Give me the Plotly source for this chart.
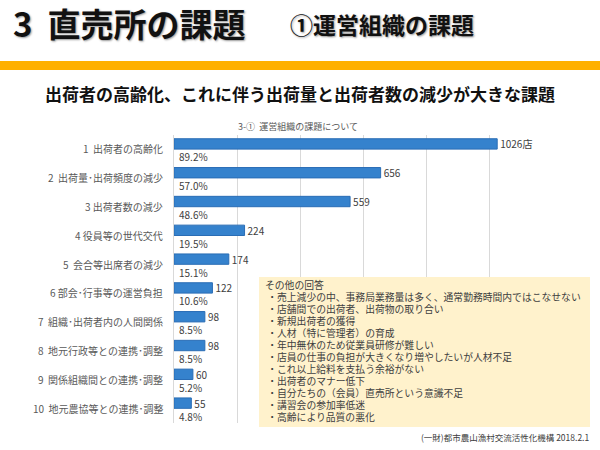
import plotly.graph_objects as go

# 運営組織の課題（回答数）
categories = ['1  出荷者の高齢化', '2  出荷量･出荷頻度の減少', '3 出荷者数の減少', '4 役員等の世代交代',
              '5  会合等出席者の減少', '6 部会･行事等の運営負担', '7  組織･出荷者内の人間関係',
              '8  地元行政等との連携･調整', '9  関係組織間との連携･調整', '10  地元農協等との連携･調整']
counts = [1026, 656, 559, 224, 174, 122, 98, 98, 60, 55]
count_labels = ['1026店', '656', '559', '224', '174', '122', '98', '98', '60', '55']
shares = ['89.2%', '57.0%', '48.6%', '19.5%', '15.1%', '10.6%', '8.5%', '8.5%', '5.2%', '4.8%']
x_ticks = [200, 400, 600, 800, 1000, 1200]

other_answers = [
    'その他の回答',
    ' ・売上減少の中、事務局業務量は多く、通常勤務時間内ではこなせない',
    ' ・店舗間での出荷者、出荷物の取り合い',
    ' ・新規出荷者の獲得',
    ' ・人材（特に管理者）の育成',
    ' ・年中無休のため従業員研修が難しい',
    ' ・店員の仕事の負担が大きくなり増やしたいが人材不足',
    ' ・これ以上給料を支払う余裕がない',
    ' ・出荷者のマナー低下',
    ' ・自分たちの（会員）直売所という意識不足',
    ' ・講習会の参加率低迷',
    ' ・高齢により品質の悪化',
]

FONT = 'Noto Sans CJK JP'
W, H = 600, 450


def py(px):
    return 1 - px / H


fig = go.Figure(go.Bar(
    x=counts, y=categories, orientation='h',
    width=0.36,
    marker=dict(color='#3582CD', line=dict(color='#2A6DB5', width=1)),
    text=count_labels, textposition='outside', constraintext='none',
    outsidetextfont=dict(family=FONT, size=10, color='#404040'),
    cliponaxis=False, hoverinfo='skip',
))

annotations = []
for cat, share in zip(categories, shares):
    annotations.append(dict(x=0.275, xref='paper', y=cat, yref='y', text=cat,
                            xanchor='right', yanchor='middle', yshift=-5, showarrow=False,
                            font=dict(family=FONT, size=10, color='#595959')))
    annotations.append(dict(x=0, xref='x', y=cat, yref='y', text=share,
                            xanchor='left', yanchor='middle', xshift=3, yshift=-13, showarrow=False,
                            font=dict(family=FONT, size=10, color='#404040')))

# その他の回答 box, one line per annotation for tight spacing
for i, line in enumerate(other_answers):
    annotations.append(dict(x=263 / W, xref='paper', y=py(285 + 12 * i), yref='paper', text=line,
                            xanchor='left', yanchor='middle', showarrow=False,
                            font=dict(family=FONT, size=9.8, color='#404040')))

annotations += [
    dict(x=11 / W, y=py(23), xref='paper', yref='paper', text='<b>3  直売所の課題</b>',
         xanchor='left', yanchor='middle', showarrow=False,
         font=dict(family=FONT, size=33, color='#111111', shadow='1px 1px 2px #999999')),
    dict(x=288 / W, y=py(24), xref='paper', yref='paper', text='<b>①運営組織の課題</b>',
         xanchor='left', yanchor='middle', showarrow=False,
         font=dict(family=FONT, size=23, color='#111111', shadow='1px 1px 2px #999999')),
    dict(x=0.5, y=py(93), xref='paper', yref='paper',
         text='<b>出荷者の高齢化、これに伴う出荷量と出荷者数の減少が大きな課題</b>',
         xanchor='center', yanchor='middle', showarrow=False,
         font=dict(family=FONT, size=17, color='#111111')),
    dict(x=298 / W, y=py(127), xref='paper', yref='paper', text='3-①  運営組織の課題について',
         xanchor='center', yanchor='middle', showarrow=False,
         font=dict(family=FONT, size=9, color='#595959')),
    dict(x=591 / W, y=py(437), xref='paper', yref='paper', text='(一財)都市農山漁村交流活性化機構 2018.2.1',
         xanchor='right', yanchor='middle', showarrow=False,
         font=dict(family=FONT, size=8.5, color='#404040')),
]

fig.update_layout(
    width=W, height=H,
    margin=dict(l=0, r=0, t=0, b=0),
    paper_bgcolor='white', plot_bgcolor='white',
    showlegend=False,
    font=dict(family=FONT),
    xaxis=dict(domain=[174 / W, 552 / W], range=[0, 1200], tickvals=x_ticks,
               showticklabels=False, showgrid=True, gridcolor='#D9D9D9', gridwidth=1,
               zeroline=False, fixedrange=True),
    yaxis=dict(domain=[py(423), py(135)], categoryorder='array', categoryarray=categories,
               range=[9.69, -0.31], showticklabels=False, showgrid=False,
               showline=True, linecolor='#D9D9D9', linewidth=1, ticks='', fixedrange=True),
    annotations=annotations,
    shapes=[
        dict(type='rect', xref='paper', yref='paper', x0=0, x1=1, y0=py(70), y1=py(61),
             fillcolor='#FFB000', line=dict(width=0), layer='below'),
        dict(type='rect', xref='paper', yref='paper', x0=259 / W, x1=590 / W, y0=py(427), y1=py(277),
             fillcolor='#FFF2CC', line=dict(width=0), layer='above'),
    ],
)

# remove the default page margin so the figure sits at the window's top-left corner
fig.write_html('out.html', config={'displayModeBar': False},
               post_script="document.body.style.margin='0';")
